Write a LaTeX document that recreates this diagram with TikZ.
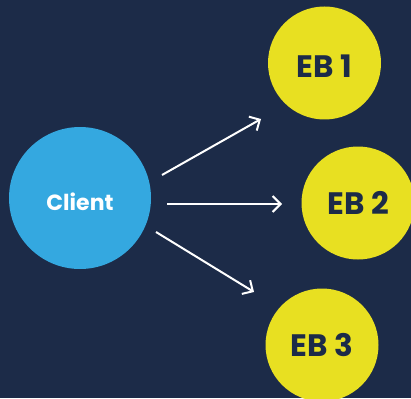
\documentclass[tikz,border=0pt]{standalone}
\usepackage{fontspec}
\setmainfont{Poppins}
\usetikzlibrary{arrows.meta}
\definecolor{bgnavy}{HTML}{1C2B48}
\definecolor{clientblue}{HTML}{34A8E0}
\definecolor{ebyellow}{HTML}{E8E021}
\begin{document}
\begin{tikzpicture}[x=1pt,y=-1pt,
  clientnode/.style={circle,fill=clientblue,minimum size=142pt,inner sep=0pt,text=white,font=\fontsize{22}{26}\selectfont\bfseries},
  ebnode/.style={circle,fill=ebyellow,minimum size=113pt,inner sep=0pt,text=bgnavy,font=\fontsize{31}{34}\selectfont\bfseries},
  link/.style={draw=white,line width=2pt,-{Straight Barb[length=8pt,width=16pt,line width=2pt]}}]
\useasboundingbox (0,0) rectangle (411,398);
\clip (0,0) rectangle (411,398);
\fill[bgnavy] (0,0) rectangle (411,398);
\node[clientnode] (client) at (80,198) {};
\node[text=white,font=\fontsize{22}{26}\selectfont\bfseries] (clientlabel) at (80,202) {Client};
\node[ebnode] (eb1) at (324.5,63) {};
\node[text=bgnavy,font=\fontsize{31}{34}\selectfont\bfseries] (eb1label) at (324.5,66) {EB 1};
\node[ebnode] (eb2) at (358,203) {EB 2};
\node[ebnode] (eb3) at (322,345) {EB 3};
\coordinate (s1) at (162,175);
\coordinate (e1) at (261,119);
\coordinate (s2) at (167,204);
\coordinate (e2) at (282,204);
\coordinate (s3) at (156,232);
\coordinate (e3) at (254,292);
\draw[link] (s1) -- (e1);
\draw[link] (s2) -- (e2);
\draw[link] (s3) -- (e3);
\end{tikzpicture}
\end{document}
